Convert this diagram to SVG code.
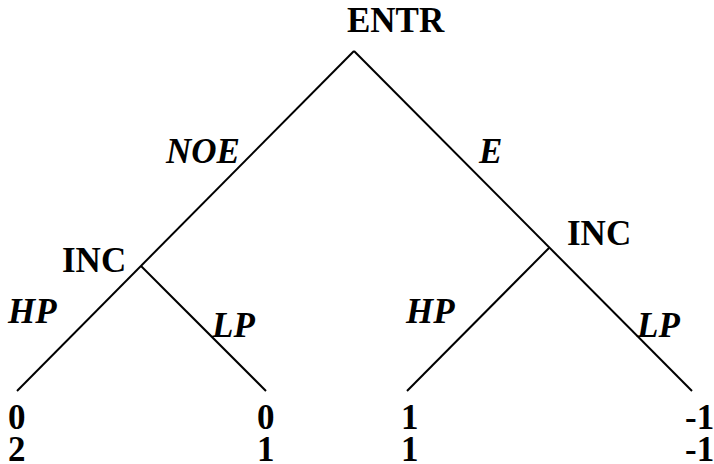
<svg xmlns="http://www.w3.org/2000/svg" width="714" height="464" viewBox="0 0 714 464">
<style>
.e{stroke:#000;stroke-width:2;fill:none;stroke-linecap:butt}
.t{font-family:'Liberation Serif',serif !important;font-weight:bold;font-size:35px;fill:#000}
.i{font-style:italic}
</style>
<rect width="714" height="464" fill="#fff"/>
<g id="connectors">
<line class="e" x1="354" y1="51" x2="17" y2="391"/>
<line class="e" x1="354" y1="51" x2="692" y2="391"/>
<line class="e" x1="141" y1="266" x2="266" y2="391"/>
<line class="e" x1="549" y1="248" x2="407" y2="391"/>
</g>
<g id="root"><text class="t" style="font-family:'Liberation Serif',serif" x="347" y="32">ENTR</text></g>
<g id="edge-labels">
<text class="t i" style="font-family:'Liberation Serif',serif" x="166" y="163">NOE</text>
<text class="t i" style="font-family:'Liberation Serif',serif" x="479" y="163">E</text>
<text class="t i" style="font-family:'Liberation Serif',serif" x="8" y="323">HP</text>
<text class="t i" style="font-family:'Liberation Serif',serif" x="212" y="337">LP</text>
<text class="t i" style="font-family:'Liberation Serif',serif" x="406" y="323">HP</text>
<text class="t i" style="font-family:'Liberation Serif',serif" x="637" y="337">LP</text>
</g>
<g id="inc-left"><text class="t" style="font-family:'Liberation Serif',serif" x="62" y="272">INC</text></g>
<g id="inc-right"><text class="t" style="font-family:'Liberation Serif',serif" x="567" y="245">INC</text></g>
<g id="leaf1"><text class="t" style="font-family:'Liberation Serif',serif" x="8" y="429">0</text><text class="t" style="font-family:'Liberation Serif',serif" x="8" y="461">2</text></g>
<g id="leaf2"><text class="t" style="font-family:'Liberation Serif',serif" x="257" y="429">0</text><text class="t" style="font-family:'Liberation Serif',serif" x="257" y="461">1</text></g>
<g id="leaf3"><text class="t" style="font-family:'Liberation Serif',serif" x="401" y="429">1</text><text class="t" style="font-family:'Liberation Serif',serif" x="401" y="461">1</text></g>
<g id="leaf4"><text class="t" style="font-family:'Liberation Serif',serif" x="685" y="429">-1</text><text class="t" style="font-family:'Liberation Serif',serif" x="685" y="461">-1</text></g>
</svg>
